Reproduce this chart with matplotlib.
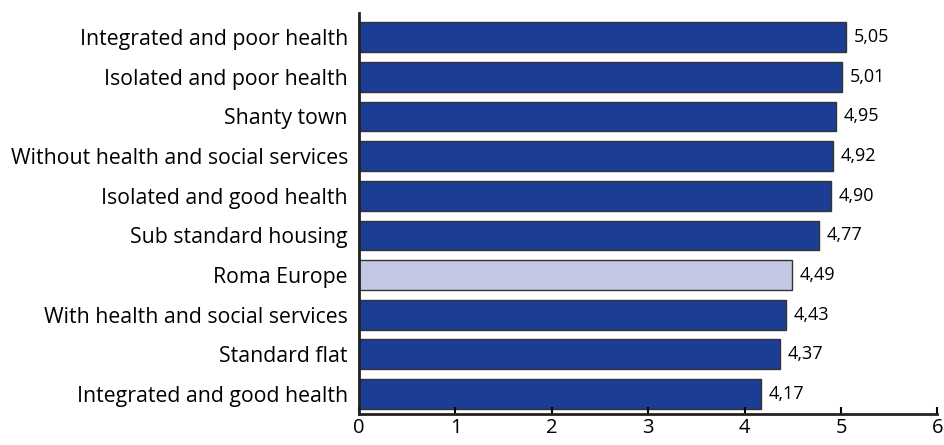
import matplotlib.pyplot as plt

categories = ['Integrated and poor health', 'Isolated and poor health', 'Shanty town',
              'Without health and social services', 'Isolated and good health',
              'Sub standard housing', 'Roma Europe', 'With health and social services',
              'Standard flat', 'Integrated and good health']
values = [5.05, 5.01, 4.95, 4.92, 4.90, 4.77, 4.49, 4.43, 4.37, 4.17]
highlight = 'Roma Europe'

plt.rcParams['font.family'] = ['Open Sans', 'DejaVu Sans']

fig = plt.figure(figsize=(9.45, 4.45), dpi=100)
ax = fig.add_axes([0.380, 0.070, 0.612, 0.900])

colors = ['#c5c8e4' if c == highlight else '#1b3d94' for c in categories]
pos = list(range(len(categories)))[::-1]
ax.barh(pos, values, height=0.75, color=colors, edgecolor='#333333', linewidth=1)

for p, v in zip(pos, values):
    ax.text(v + 0.08, p, f'{v:.2f}'.replace('.', ','), va='center', ha='left', fontsize=13)

ax.set_yticks(pos)
ax.set_yticklabels(categories, fontsize=15.3)
ax.set_xlim(0, 6)
ax.set_ylim(-0.5, 9.6)
ax.set_xticks(range(7))
ax.tick_params(axis='x', direction='in', length=5, width=1.5, labelsize=14.5, pad=3)
ax.tick_params(axis='y', length=0, pad=8)
for s in ['top', 'right']:
    ax.spines[s].set_visible(False)
for s in ['left', 'bottom']:
    ax.spines[s].set_linewidth(2)
    ax.spines[s].set_color('#222222')

fig.savefig('out.png', dpi=100)
